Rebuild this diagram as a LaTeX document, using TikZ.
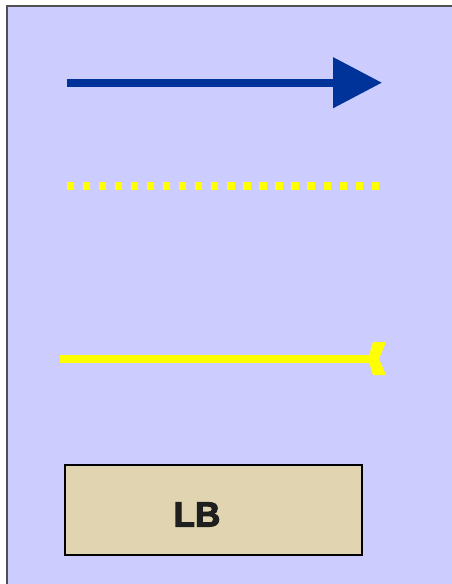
\documentclass[tikz,border=0pt]{standalone}
\usepackage{fontspec}
\setmainfont{Liberation Sans}
\newfontfamily\lbfont{Liberation Sans Bold}[FakeBold=3]
\usetikzlibrary{arrows.meta}
\definecolor{lavender}{HTML}{CCCCFF}
\definecolor{darkblue}{HTML}{003399}
\definecolor{signyellow}{HTML}{FFFF00}
\definecolor{sandbox}{HTML}{E0D5B0}
\definecolor{frame}{HTML}{505050}
\begin{document}
\begin{tikzpicture}[x=1pt,y=-1pt,
    blueline/.style={draw=darkblue, fill=darkblue, line width=8pt, -{Triangle[length=49pt,width=49pt]}},
    dotline/.style={draw=signyellow, line width=8pt, dash pattern=on 7.3pt off 8.75pt},
    tailline/.style={draw=signyellow, line width=8pt},
    lbbox/.style={draw=black, line width=2pt, fill=sandbox, minimum width=297pt, minimum height=90pt,
        inner sep=0pt, text height=33pt, font=\lbfont\fontsize{35}{40}\selectfont, text=black!88}]
    \useasboundingbox (0,0) rectangle (452,584);
    \clip (0,0) rectangle (452,584);
    \fill[white] (0,0) rectangle (452,584);
    \path[fill=lavender, draw=frame, line width=2pt] (6.5,5.5) rectangle (470,600);

    \coordinate (blueS) at (66.7,82.7);
    \coordinate (blueE) at (382,82.7);
    \coordinate (dotS) at (66.7,185.8);
    \coordinate (dotE) at (379,185.8);
    \coordinate (tailS) at (60,359);
    \coordinate (tailE) at (370,359);

    \draw[blueline] (blueS) -- (blueE);
    \draw[dotline] (dotS) -- (dotE);
    \draw[tailline] (tailS) -- (tailE);
    \fill[signyellow] (368,359) -- (373,342) -- (386,342) -- (379,359) -- (386,375) -- (373,375) -- cycle;

    \node[lbbox] (lb) at (213.5,510) {\hspace*{-33pt}LB};
\end{tikzpicture}
\end{document}
